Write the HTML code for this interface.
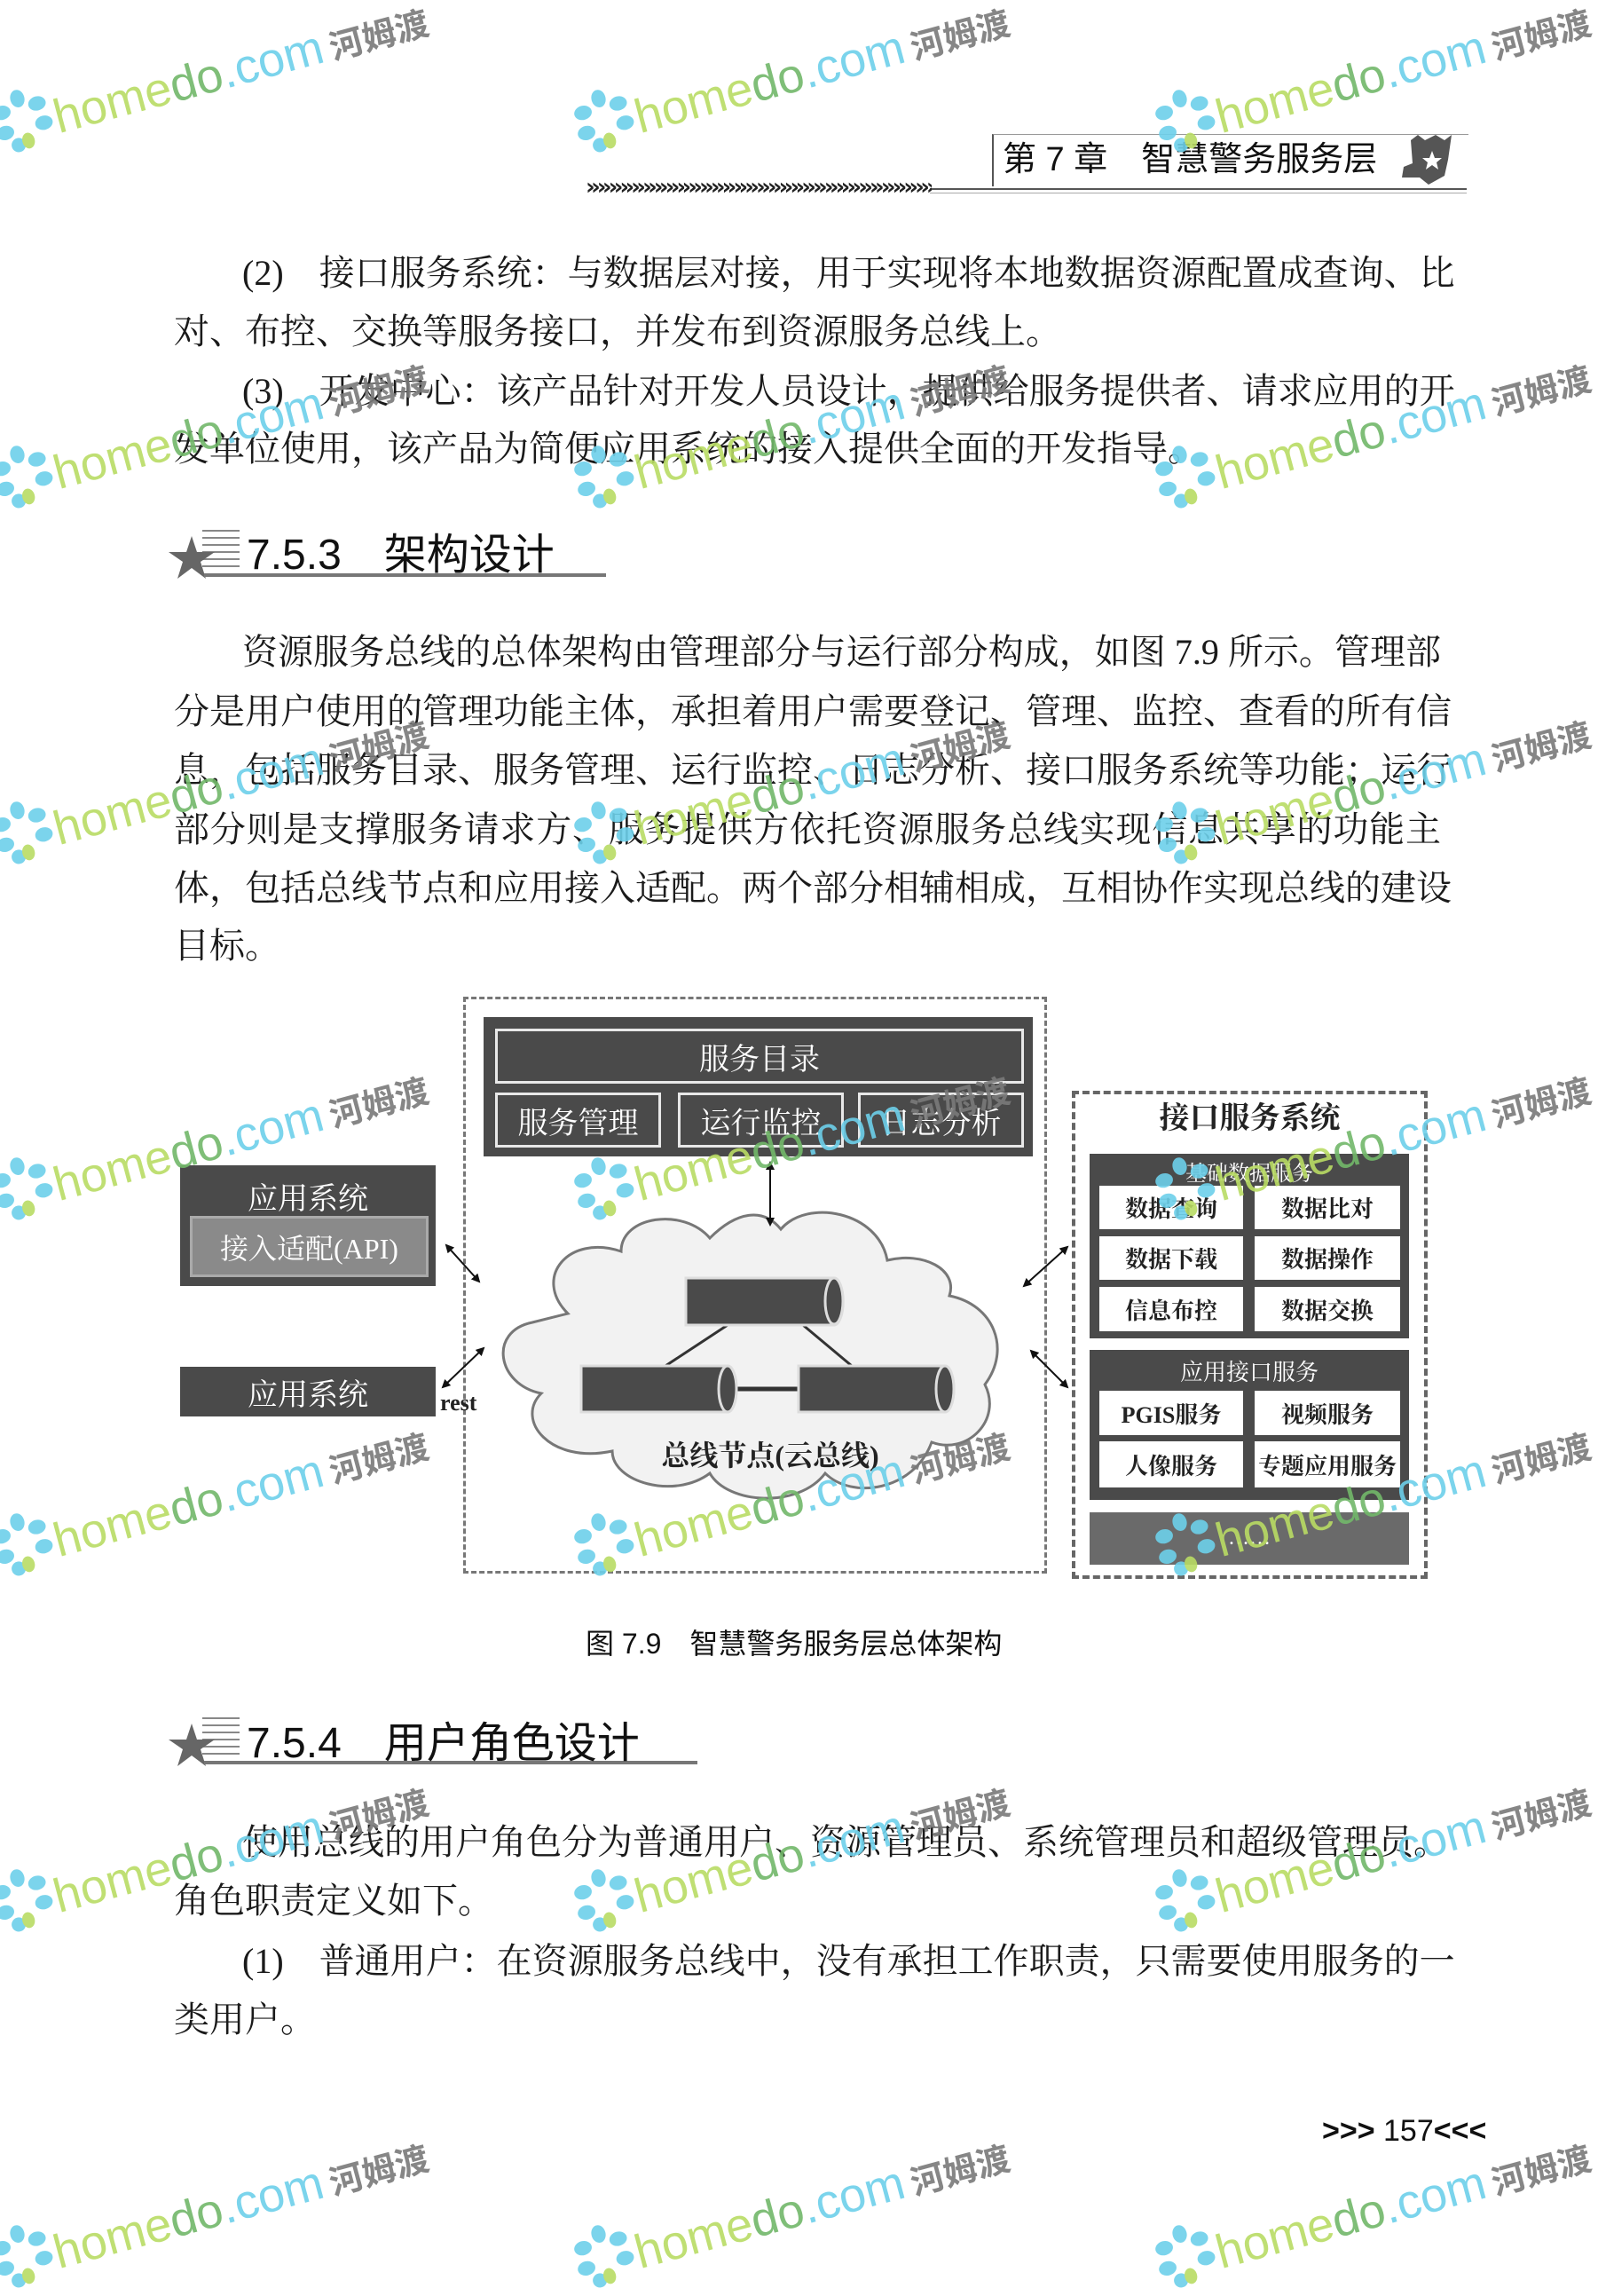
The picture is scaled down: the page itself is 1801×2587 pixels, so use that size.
<!DOCTYPE html>
<html><head><meta charset="utf-8">
<style>
html,body{margin:0;padding:0;}
body{width:1801px;height:2541px;position:relative;background:#fff;overflow:hidden;font-family:"Liberation Serif","Noto Serif CJK SC",serif;}
.l{position:absolute;left:196px;width:1428px;font-size:40px;line-height:50px;color:#1a1a1a;white-space:nowrap;}
.j{text-align:justify;text-align-last:justify;}
.i{left:273px;width:1351px;}
.h{position:absolute;font-family:"Liberation Sans","Noto Sans CJK SC",sans-serif;font-size:48px;color:#111;}
.box{position:absolute;box-sizing:border-box;font-family:"Liberation Serif","Noto Serif CJK SC",serif;color:#fff;display:flex;align-items:center;justify-content:center;}
.dk{background:#4a4a4a;}
.ib{border:3px solid #e8e8e8;background:#4a4a4a;font-size:34px;}
.cell{position:absolute;background:#fff;color:#222;font-size:26px;display:flex;align-items:center;justify-content:center;font-family:"Liberation Serif","Noto Serif CJK SC",serif;font-weight:bold;}
.wm{position:absolute;transform:rotate(-15deg);transform-origin:0 100%;white-space:nowrap;font-family:"Liberation Sans","Noto Sans CJK SC",sans-serif;opacity:.9;}
.wm .a{color:#b9dc64;font-size:54px;}
.wm .b{color:#72b86a;font-size:54px;}
.wm .c{color:#6dd0ea;font-size:54px;}
.wm .d{color:#7a7a7a;font-size:38px;font-weight:bold;margin-left:8px;}
</style></head><body>

<div style="position:absolute;left:1118px;top:151px;width:535px;height:58px;border-left:2px solid #555;border-top:1px solid #999;"></div>
<div style="position:absolute;left:1130px;top:152px;font-family:'Liberation Sans','Noto Sans CJK SC',sans-serif;font-size:38px;color:#111;line-height:56px;">第 7 章　智慧警务服务层</div>
<svg style="position:absolute;left:1570px;top:150px" width="80" height="60"><path d="M20 8 L28 2 L36 8 L48 2 L58 8 L66 2 L62 30 L58 48 L40 58 L30 50 L10 50 L12 38 L22 34 Z" fill="#555"/><polygon points="44,20 47,28 55,28 49,33 51,41 44,36 37,41 39,33 33,28 41,28" fill="#fff"/></svg>
<div style="position:absolute;left:1048px;top:212px;width:605px;height:2px;background:#555;"></div>
<div style="position:absolute;left:1048px;top:217px;width:605px;height:1px;background:#aaa;"></div>
<div style="position:absolute;left:660px;top:196px;width:390px;height:24px;overflow:hidden;font-family:'DejaVu Sans',sans-serif;font-size:26px;font-weight:bold;letter-spacing:-4px;color:#222;white-space:nowrap;">»»»»»»»»»»»»»»»»»»»»»»»»»»»»»»»»»»»»»»</div>

<div class="l i j" style="top:283px">(2)　接口服务系统：与数据层对接，用于实现将本地数据资源配置成查询、比</div>
<div class="l" style="top:349px">对、布控、交换等服务接口，并发布到资源服务总线上。</div>
<div class="l i j" style="top:416px">(3)　开发中心：该产品针对开发人员设计，提供给服务提供者、请求应用的开</div>
<div class="l" style="top:481px">发单位使用，该产品为简便应用系统的接入提供全面的开发指导。</div>

<svg style="position:absolute;left:190px;top:588px" width="500" height="66">
<g stroke="#888" stroke-width="2"><line x1="38" y1="10" x2="80" y2="10"/><line x1="38" y1="18" x2="80" y2="18"/><line x1="38" y1="26" x2="80" y2="26"/><line x1="38" y1="34" x2="80" y2="34"/><line x1="38" y1="42" x2="80" y2="42"/><line x1="38" y1="50" x2="80" y2="50"/></g>
<polygon points="26,16 32,34 52,34 36,45 42,64 26,52 10,64 16,45 0,34 20,34" fill="#666"/>
<rect x="40" y="58" width="453" height="4" fill="#777"/></svg>
<div class="h" style="left:278px;top:585px;">7.5.3　架构设计</div>

<div class="l i j" style="top:710px">资源服务总线的总体架构由管理部分与运行部分构成，如图 7.9 所示。管理部</div>
<div class="l j" style="top:777px">分是用户使用的管理功能主体，承担着用户需要登记、管理、监控、查看的所有信</div>
<div class="l j" style="top:843px">息，包括服务目录、服务管理、运行监控、日志分析、接口服务系统等功能；运行</div>
<div class="l j" style="top:910px">部分则是支撑服务请求方、服务提供方依托资源服务总线实现信息共享的功能主</div>
<div class="l j" style="top:976px">体，包括总线节点和应用接入适配。两个部分相辅相成，互相协作实现总线的建设</div>
<div class="l" style="top:1041px">目标。</div>

<div style="position:absolute;left:522px;top:1123px;width:658px;height:650px;box-sizing:border-box;border:3px dashed #777;"></div>
<div style="position:absolute;left:1208px;top:1229px;width:401px;height:550px;box-sizing:border-box;border:4px dashed #666;"></div>

<div class="box dk" style="left:545px;top:1146px;width:619px;height:157px;"></div>
<div class="box ib" style="left:558px;top:1159px;width:596px;height:62px;">服务目录</div>
<div class="box ib" style="left:558px;top:1231px;width:187px;height:62px;">服务管理</div>
<div class="box ib" style="left:764px;top:1231px;width:187px;height:62px;">运行监控</div>
<div class="box ib" style="left:967px;top:1231px;width:187px;height:62px;">日志分析</div>

<div class="box dk" style="left:203px;top:1313px;width:288px;height:136px;align-items:flex-start;padding-top:10px;font-size:34px;">应用系统</div>
<div class="box" style="left:214px;top:1370px;width:269px;height:69px;background:#8a8a8a;border:3px solid #aaa;font-size:32px;">接入适配(API)</div>
<div class="box dk" style="left:203px;top:1540px;width:288px;height:56px;font-size:34px;">应用系统</div>
<div style="position:absolute;left:496px;top:1566px;font-size:26px;font-weight:bold;color:#222;">rest</div>

<svg style="position:absolute;left:0;top:0" width="1801" height="2541">
<defs><marker id="ar" markerWidth="10" markerHeight="10" refX="8" refY="5" orient="auto-start-reverse" markerUnits="userSpaceOnUse"><path d="M0,0 L10,5 L0,10 Z" fill="#111"/></marker></defs>
<path d="M640,1480 C600,1440 640,1390 700,1410 C700,1370 770,1360 800,1395 C830,1365 860,1360 880,1385 C910,1350 990,1365 1000,1420 C1040,1410 1080,1430 1070,1460 C1120,1470 1140,1520 1110,1560 C1130,1600 1090,1640 1050,1625 C1030,1680 960,1690 930,1660 C900,1700 820,1695 800,1660 C760,1690 690,1670 690,1635 C620,1650 580,1600 610,1570 C560,1560 550,1500 600,1490 Z" fill="#f2f2f2" stroke="#777" stroke-width="3"/>
<line x1="868" y1="1310" x2="868" y2="1380" stroke="#111" stroke-width="2" marker-start="url(#ar)" marker-end="url(#ar)"/>
<line x1="503" y1="1403" x2="540" y2="1444" stroke="#111" stroke-width="2" marker-start="url(#ar)" marker-end="url(#ar)"/>
<line x1="499" y1="1563" x2="545" y2="1519" stroke="#111" stroke-width="2" marker-start="url(#ar)" marker-end="url(#ar)"/>
<line x1="1154" y1="1449" x2="1203" y2="1405" stroke="#111" stroke-width="2" marker-start="url(#ar)" marker-end="url(#ar)"/>
<line x1="1162" y1="1522" x2="1203" y2="1563" stroke="#111" stroke-width="2" marker-start="url(#ar)" marker-end="url(#ar)"/>
<line x1="820" y1="1493" x2="750" y2="1539" stroke="#333" stroke-width="3"/>
<line x1="905" y1="1493" x2="960" y2="1539" stroke="#333" stroke-width="3"/>
<line x1="830" y1="1565" x2="900" y2="1565" stroke="#333" stroke-width="5"/>
<g fill="#4a4a4a" stroke="#ddd" stroke-width="3">
<path d="M773,1440 H940 A10,26 0 0 1 940,1493 H773 Z"/><ellipse cx="940" cy="1466" rx="10" ry="26"/>
<path d="M655,1539 H820 A10,26 0 0 1 820,1591 H655 Z"/><ellipse cx="820" cy="1565" rx="10" ry="26"/>
<path d="M900,1539 H1065 A10,26 0 0 1 1065,1591 H900 Z"/><ellipse cx="1065" cy="1565" rx="10" ry="26"/>
</g>
</svg>
<div style="position:absolute;left:718px;top:1615px;width:300px;text-align:center;font-size:32px;font-weight:bold;color:#222;">总线节点(云总线)</div>

<div style="position:absolute;left:1208px;top:1232px;width:401px;text-align:center;font-size:34px;font-weight:bold;color:#222;">接口服务系统</div>
<div class="box dk" style="left:1228px;top:1300px;width:360px;height:208px;align-items:flex-start;font-size:24px;padding-top:2px;">基础数据服务</div>
<div class="cell" style="left:1239px;top:1336px;width:162px;height:49px;">数据查询</div>
<div class="cell" style="left:1414px;top:1336px;width:164px;height:49px;">数据比对</div>
<div class="cell" style="left:1239px;top:1393px;width:162px;height:49px;">数据下载</div>
<div class="cell" style="left:1414px;top:1393px;width:164px;height:49px;">数据操作</div>
<div class="cell" style="left:1239px;top:1450px;width:162px;height:50px;">信息布控</div>
<div class="cell" style="left:1414px;top:1450px;width:164px;height:50px;">数据交换</div>
<div class="box dk" style="left:1228px;top:1521px;width:360px;height:169px;align-items:flex-start;font-size:26px;padding-top:5px;">应用接口服务</div>
<div class="cell" style="left:1239px;top:1567px;width:162px;height:50px;">PGIS服务</div>
<div class="cell" style="left:1414px;top:1567px;width:164px;height:50px;">视频服务</div>
<div class="cell" style="left:1239px;top:1624px;width:162px;height:52px;">人像服务</div>
<div class="cell" style="left:1414px;top:1624px;width:164px;height:52px;">专题应用服务</div>
<div class="box" style="left:1228px;top:1704px;width:360px;height:59px;background:#6a6a6a;font-size:24px;">……</div>

<div style="position:absolute;left:660px;top:1827px;font-family:'Liberation Sans','Noto Sans CJK SC',sans-serif;font-size:32px;color:#111;">图 7.9　智慧警务服务层总体架构</div>

<svg style="position:absolute;left:190px;top:1926px" width="610" height="66">
<g stroke="#888" stroke-width="2"><line x1="38" y1="10" x2="80" y2="10"/><line x1="38" y1="18" x2="80" y2="18"/><line x1="38" y1="26" x2="80" y2="26"/><line x1="38" y1="34" x2="80" y2="34"/><line x1="38" y1="42" x2="80" y2="42"/><line x1="38" y1="50" x2="80" y2="50"/></g>
<polygon points="26,16 32,34 52,34 36,45 42,64 26,52 10,64 16,45 0,34 20,34" fill="#666"/>
<rect x="40" y="58" width="556" height="4" fill="#777"/></svg>
<div class="h" style="left:278px;top:1924px;">7.5.4　用户角色设计</div>

<div class="l i j" style="top:2051px">使用总线的用户角色分为普通用户、资源管理员、系统管理员和超级管理员。</div>
<div class="l" style="top:2117px">角色职责定义如下。</div>
<div class="l i j" style="top:2185px">(1)　普通用户：在资源服务总线中，没有承担工作职责，只需要使用服务的一</div>
<div class="l" style="top:2251px">类用户。</div>

<div style="position:absolute;left:1490px;top:2382px;font-family:'Liberation Sans',sans-serif;font-size:34px;color:#111;"><b>&gt;&gt;&gt;</b> 157<b>&lt;&lt;&lt;</b></div>

<div id="wms"></div>
<script>
var h='';
var xs=[2,657,1312], y0=108;
for(var r=0;r<7;r++){for(var c=0;c<3;c++){
 var x=xs[c], y=y0+r*401;
 h+='<div class="wm" style="left:'+x+'px;top:'+y+'px"><svg width="70" height="70" style="vertical-align:-10px"><g fill="#6dd0ea"><ellipse cx="35" cy="10" rx="8" ry="10"/><ellipse cx="55" cy="21" rx="10" ry="8"/><ellipse cx="57" cy="44" rx="10" ry="8"/><ellipse cx="14" cy="21" rx="10" ry="8"/><ellipse cx="12" cy="44" rx="10" ry="8"/><ellipse cx="23" cy="61" rx="8" ry="8"/><ellipse cx="35" cy="59" rx="7" ry="9" fill="#b9dc64"/></g></svg><span class="a">home</span><span class="b">do</span><span class="c">.com</span><span class="d">河姆渡</span></div>';
}}
document.getElementById('wms').innerHTML=h;
</script>
</body></html>
